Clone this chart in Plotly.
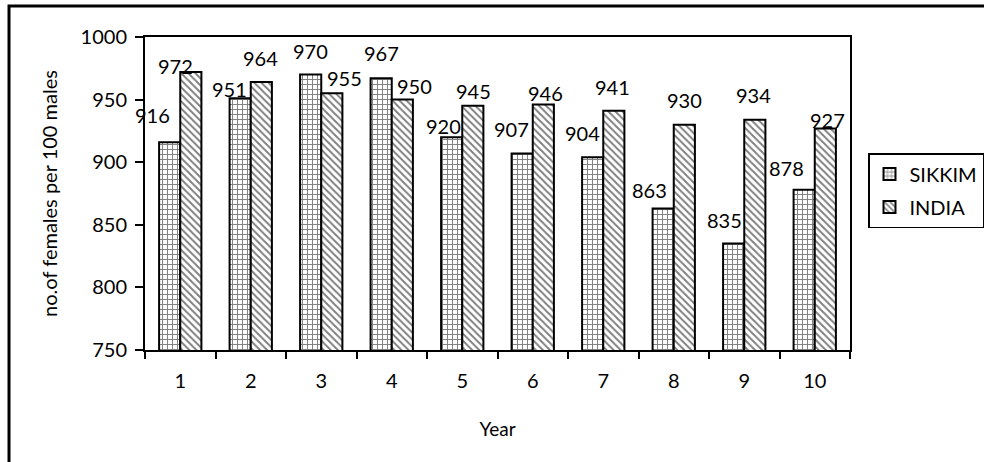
import plotly.graph_objects as go

years = [1, 2, 3, 4, 5, 6, 7, 8, 9, 10]
year_labels = ["1", "2", "3", "4", "5", "6", "7", "8", "9", "10"]
sikkim = [916, 951, 970, 967, 920, 907, 904, 863, 835, 878]
india = [972, 964, 955, 950, 945, 946, 941, 930, 934, 927]
y_ticks = [750, 800, 850, 900, 950, 1000]

# label offsets (pixels) relative to each bar: (dx, dy above the bar top)
sikkim_lbl_dx = [-17, -11, 0, 0, -8, -11, -10, -14, -9, -18]
sikkim_lbl_dy = [27, 9, 24, 25, 11, 24, 24, 19, 24, 22]
india_lbl_dx = [-15, -1, 13, 12, 1, 2, -1, 0, -1, 2]
india_lbl_dy = [6, 24, 15, 14, 15, 12, 24, 25, 25, 8]

FONT = "Lato"

fig = go.Figure()
fig.add_trace(go.Bar(
    x=years, y=sikkim, name="SIKKIM", legendgroup="a",
    marker=dict(color="white",
                pattern=dict(shape="+", fgcolor="black", bgcolor="white", size=5, solidity=0.35),
                line=dict(color="black", width=2)),
))
fig.add_trace(go.Bar(
    x=years, y=india, name="INDIA", legendgroup="b",
    marker=dict(color="white",
                pattern=dict(shape="\\", fgcolor="black", bgcolor="white", size=5, solidity=0.4),
                line=dict(color="black", width=2)),
))

annotations = []
for i, yr in enumerate(years):
    annotations.append(dict(x=yr, y=sikkim[i], text=str(sikkim[i]), showarrow=False,
                            xref="x", yref="y", xshift=-10.5 + sikkim_lbl_dx[i],
                            yshift=sikkim_lbl_dy[i], yanchor="middle", xanchor="center",
                            font=dict(family=FONT, size=20, color="black")))
    annotations.append(dict(x=yr, y=india[i], text=str(india[i]), showarrow=False,
                            xref="x", yref="y", xshift=10.5 + india_lbl_dx[i],
                            yshift=india_lbl_dy[i], yanchor="middle", xanchor="center",
                            font=dict(family=FONT, size=20, color="black")))

fig.update_layout(
    width=984, height=462, autosize=False,
    margin=dict(l=145, r=134, t=37, b=112),
    paper_bgcolor="white", plot_bgcolor="white",
    font=dict(family=FONT, size=20, color="black"),
    barmode="group", bargap=0.4, bargroupgap=0,
    showlegend=True,
    legend=dict(xref="container", yref="container", x=868 / 984, y=1 - 153 / 462,
                xanchor="left", yanchor="top",
                bordercolor="black", borderwidth=1.5, bgcolor="white",
                font=dict(family=FONT, size=20, color="black"),
                tracegroupgap=4, itemwidth=30, traceorder="grouped"),
    annotations=annotations,
    shapes=[dict(type="rect", xref="paper", yref="paper",
                 x0=-0.1929, x1=1.35, y0=-0.6, y1=1.099,
                 line=dict(color="black", width=3), fillcolor="rgba(0,0,0,0)", layer="below")],
)

fig.update_xaxes(
    range=[0.5, 10.5], tickmode="array", tickvals=years, ticktext=year_labels,
    ticks="", showline=True, linecolor="black", linewidth=2, mirror=True,
    showgrid=False, zeroline=False, automargin=False, ticklabelstandoff=12,
    minor=dict(tickmode="linear", tick0=0.5, dtick=1, ticks="outside", ticklen=7,
               tickwidth=2, tickcolor="black", showgrid=False),
    tickfont=dict(family=FONT, size=20),
    title=dict(text="Year", font=dict(family=FONT, size=19), standoff=32),
)
fig.update_yaxes(
    range=[750, 1000], tickvals=y_ticks, ticks="outside", ticklen=8, tickwidth=2,
    tickcolor="black", showline=True, linecolor="black", linewidth=2, mirror=True,
    showgrid=False, zeroline=False, automargin=False, ticklabelstandoff=4,
    tickfont=dict(family=FONT, size=20),
    title=dict(text="no.of females per 100 males", font=dict(family=FONT, size=20), standoff=18),
)

fig.write_html("out.html", config={"displayModeBar": False},
               post_script="document.body.style.margin='0';document.body.style.overflow='hidden';")
